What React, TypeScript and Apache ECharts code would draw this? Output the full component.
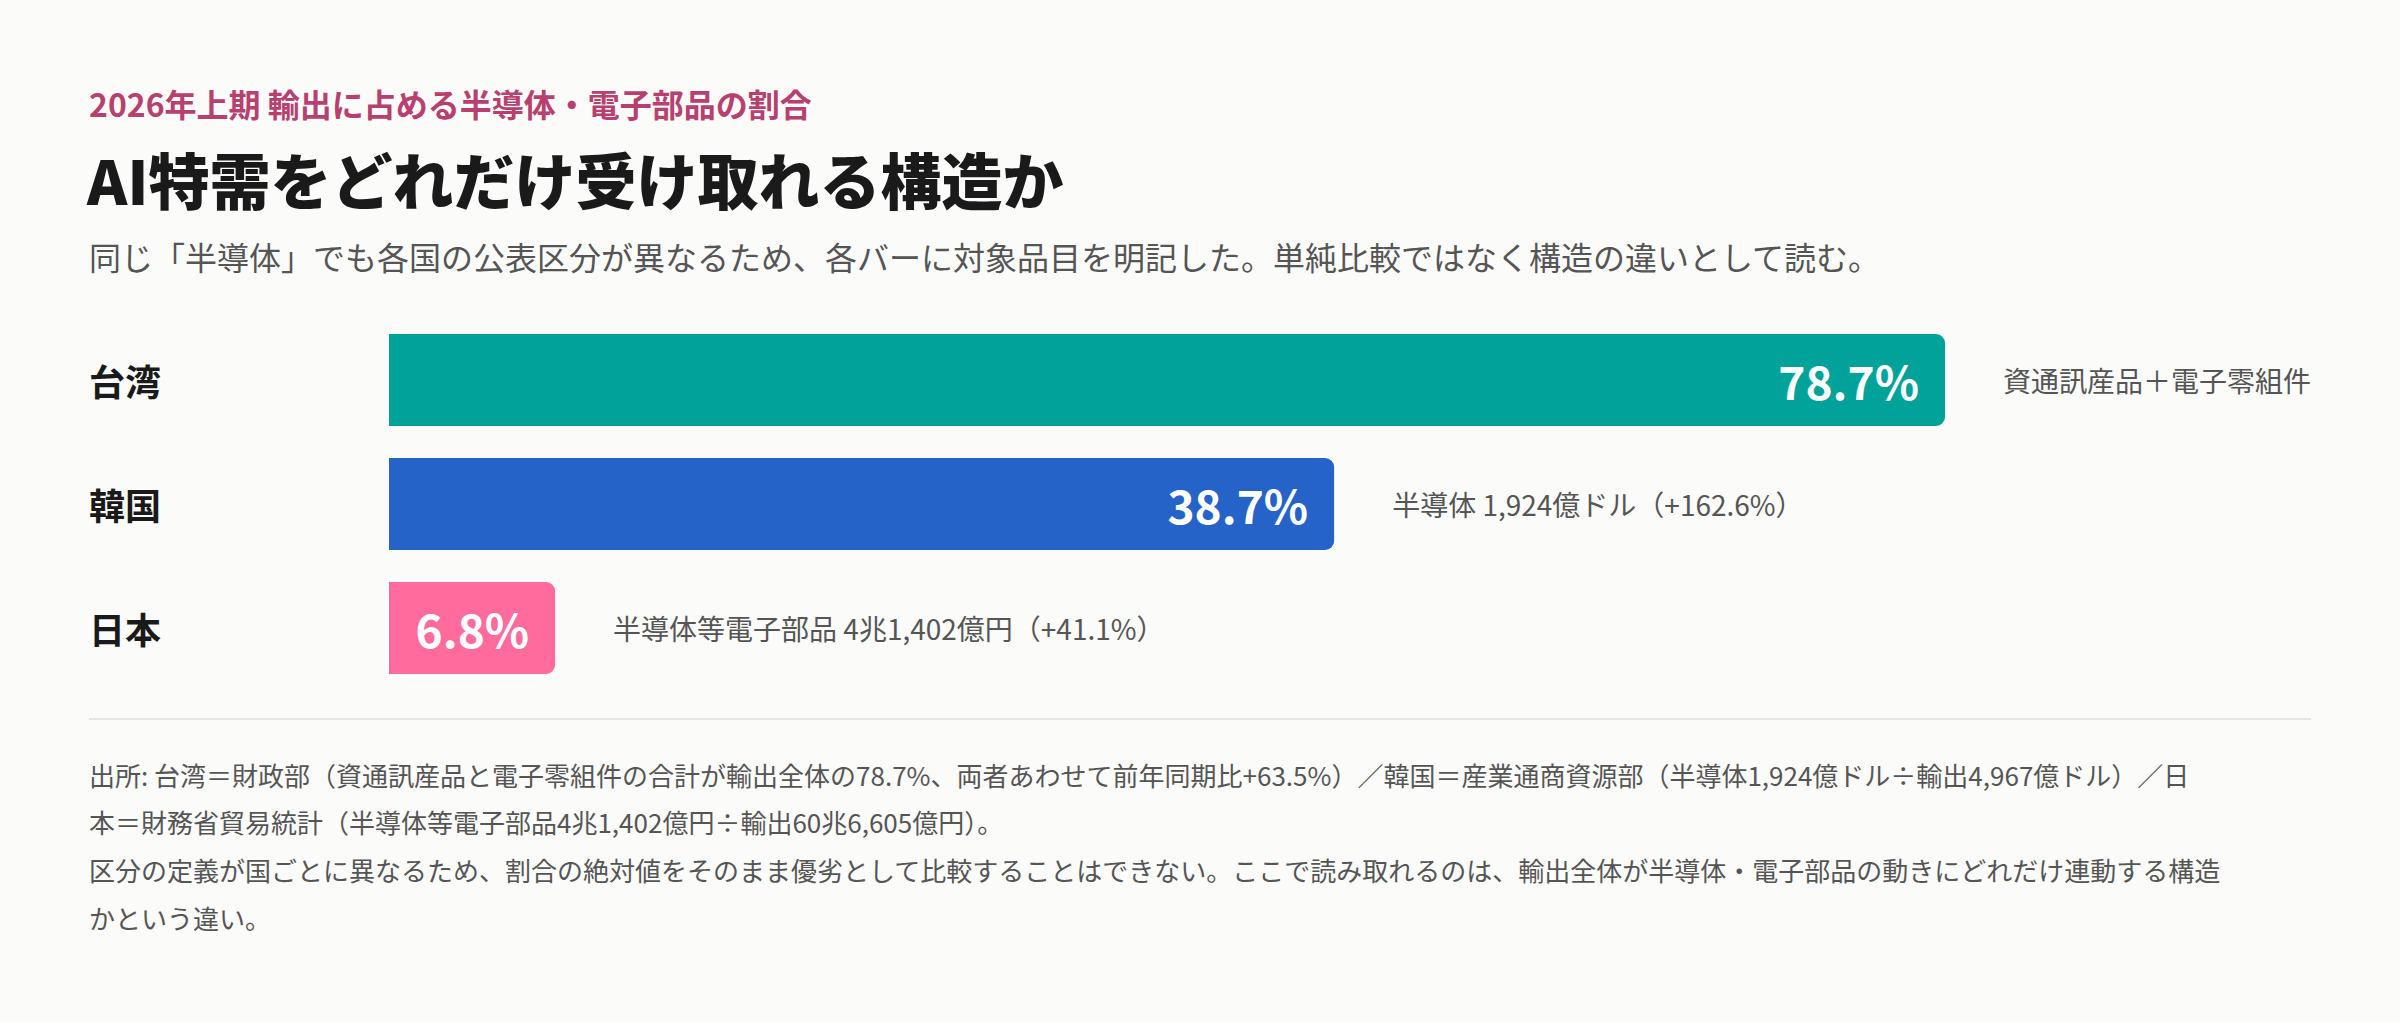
import React, { useEffect, useRef } from 'react';
import * as echarts from 'echarts';

const FONT = '"Noto Sans CJK JP", "Noto Sans", sans-serif';

const countries = ['台湾', '韓国', '日本'];
const shares = [78.7, 38.7, 6.8];
const barColors = ['#00a29a', '#2563c8', '#ff6b9d'];
const notes = [
    '資通訊産品＋電子零組件',
    '半導体 1,924億ドル（+162.6%）',
    '半導体等電子部品 4兆1,402億円（+41.1%）',
];

const kicker = '2026年上期 輸出に占める半導体・電子部品の割合';
const headline = 'AI特需をどれだけ受け取れる構造か';
const subline = '同じ「半導体」でも各国の公表区分が異なるため、各バーに対象品目を明記した。単純比較ではなく構造の違いとして読む。';
const footnoteLines = [
    '出所: 台湾＝財政部（資通訊産品と電子零組件の合計が輸出全体の78.7%、両者あわせて前年同期比+63.5%）／韓国＝産業通商資源部（半導体1,924億ドル÷輸出4,967億ドル）／日',
    '本＝財務省貿易統計（半導体等電子部品4兆1,402億円÷輸出60兆6,605億円）。',
    '区分の定義が国ごとに異なるため、割合の絶対値をそのまま優劣として比較することはできない。ここで読み取れるのは、輸出全体が半導体・電子部品の動きにどれだけ連動する構造',
    'かという違い。',
];

const PAGE_W = 2400;
const LEFT = 89;
const TRACK_LEFT = 389;
const TRACK_W = PAGE_W - TRACK_LEFT - LEFT;
const NOTE_GAP = 58;
const NOTE_SIZE = 28;

// width of a note label, used to shrink a bar so its note still fits in the row
const measure = (text: string, size: number) => {
    const ctx = document.createElement('canvas').getContext('2d');
    if (!ctx) return text.length * size;
    ctx.font = `${size}px ${FONT}`;
    return ctx.measureText(text).width;
};

export default function App() {
    const chartRef = useRef<HTMLDivElement>(null);

    useEffect(() => {
        if (!chartRef.current) return;
        document.body.style.margin = '0';
        const chart = echarts.init(chartRef.current, null, { renderer: 'svg' });

        const axisMax = Math.max(...shares);
        const shown = shares.map((v, i) => {
            const natural = (v / axisMax) * TRACK_W;
            const room = TRACK_W - NOTE_GAP - measure(notes[i], NOTE_SIZE);
            return (Math.min(natural, room) / TRACK_W) * axisMax;
        });

        chart.setOption({
            animation: false,
            backgroundColor: '#fbfbfa',
            grid: { left: TRACK_LEFT, right: LEFT, top: 318, height: 372 },
            xAxis: { type: 'value', min: 0, max: axisMax, show: false },
            yAxis: {
                type: 'category',
                inverse: true,
                data: countries,
                axisLine: { show: false },
                axisTick: { show: false },
                axisLabel: {
                    align: 'left',
                    margin: TRACK_LEFT - LEFT,
                    color: '#1a1a1a',
                    fontFamily: FONT,
                    fontSize: 36,
                    fontWeight: 'bold',
                },
            },
            series: [
                {
                    type: 'bar',
                    barWidth: 92,
                    data: shown.map((v, i) => ({
                        value: v,
                        itemStyle: { color: barColors[i], borderRadius: [0, 9, 9, 0] },
                    })),
                    label: {
                        show: true,
                        position: 'insideRight',
                        distance: 26,
                        formatter: (p: any) => `${shares[p.dataIndex]}%`,
                        color: '#ffffff',
                        fontFamily: FONT,
                        fontSize: 46,
                        fontWeight: 'bold',
                        textBorderWidth: 0,
                    },
                },
                {
                    type: 'bar',
                    barWidth: 92,
                    barGap: '-100%',
                    silent: true,
                    data: shown,
                    itemStyle: { color: 'rgba(0,0,0,0)' },
                    label: {
                        show: true,
                        position: 'right',
                        distance: NOTE_GAP,
                        formatter: (p: any) => notes[p.dataIndex],
                        color: '#555555',
                        fontFamily: FONT,
                        fontSize: NOTE_SIZE,
                    },
                },
            ],
            graphic: [
                {
                    type: 'text',
                    x: LEFT,
                    y: 103,
                    style: { text: kicker, fill: '#b8406f', font: `bold 32px ${FONT}`, verticalAlign: 'middle' },
                },
                {
                    type: 'text',
                    x: LEFT - 2,
                    y: 178,
                    style: { text: headline, fill: '#1a1a1a', font: `900 61px ${FONT}`, verticalAlign: 'middle' },
                },
                {
                    type: 'text',
                    x: LEFT,
                    y: 256,
                    style: { text: subline, fill: '#555555', font: `32px ${FONT}`, verticalAlign: 'middle' },
                },
                {
                    type: 'line',
                    shape: { x1: LEFT, y1: 719, x2: PAGE_W - LEFT, y2: 719 },
                    style: { stroke: '#e6e6e6', lineWidth: 2 },
                },
                ...footnoteLines.map((t, i) => ({
                    type: 'text',
                    x: LEFT,
                    y: 774 + i * 47.7,
                    style: { text: t, fill: '#555555', font: `26px ${FONT}`, verticalAlign: 'middle' },
                })),
            ],
        });

        const handleResize = () => chart.resize();
        window.addEventListener('resize', handleResize);
        return () => {
            window.removeEventListener('resize', handleResize);
            chart.dispose();
        };
    }, []);

    return <div ref={chartRef} style={{ width: '100vw', height: '100vh' }} />;
}
